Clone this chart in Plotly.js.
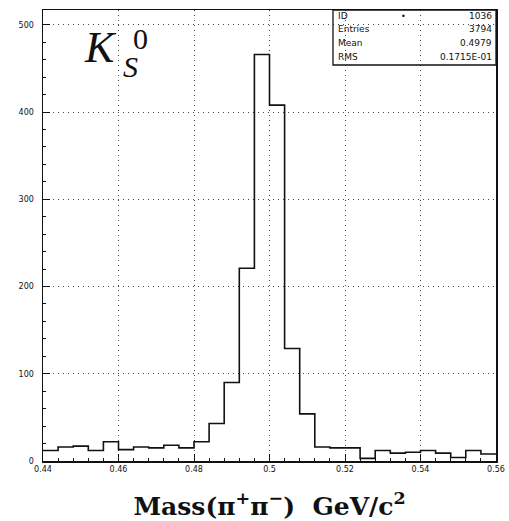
<!DOCTYPE html>
<html>
<head>
<meta charset="utf-8">
<script src="https://cdn.plot.ly/plotly-3.0.1.min.js"></script>
<style>html,body{margin:0;padding:0;background:#fff;}#plot{width:509px;height:521px;}</style>
</head>
<body>
<div id="plot"></div>
<script>
// Histogram of pi+pi- invariant mass, 30 bins of 0.004 GeV from 0.44 to 0.56
const binStart = 0.44;
const binWidth = 0.004;
const counts = [12, 16, 17, 12, 22, 13, 16, 15, 18, 15,
                22, 43, 90, 221, 466, 408, 129, 54, 16, 15,
                15, 3, 12, 9, 10, 12, 9, 4, 12, 8];
const xTickVals = [0.44, 0.46, 0.48, 0.5, 0.52, 0.54, 0.56];
const xTickText = ['0.44', '0.46', '0.48', '0.5', '0.52', '0.54', '0.56'];
const yTickVals = [0, 100, 200, 300, 400, 500];
const statLabels = ['ID', 'Entries', 'Mean', 'RMS'];
const statValues = ['1036', '3794', '0.4979', '0.1715E-01'];

// step outline from bin edges
const edges = counts.map((c, i) => +(binStart + i * binWidth).toFixed(4));
edges.push(+(binStart + counts.length * binWidth).toFixed(4));
const stepY = counts.concat([counts[counts.length - 1]]);

const trace = {
  x: edges, y: stepY, type: 'scatter', mode: 'lines',
  line: {shape: 'hv', color: '#111', width: 1.6},
  hoverinfo: 'skip', showlegend: false
};

// layout geometry (paper coords)
const L = 43, R = 13, T = 10, B = 60, W = 509, H = 521;
const pw = W - L - R, ph = H - T - B;
const px = v => (v - L) / pw;
const py = v => (H - B - v) / ph;

const annotations = [];
const rowY = [16, 29, 43, 57];
statLabels.forEach((s, i) => {
  annotations.push({xref: 'paper', yref: 'paper', x: px(336), y: py(rowY[i]), xanchor: 'left', yanchor: 'middle',
    text: s, showarrow: false, font: {family: 'DejaVu Sans', size: 9, color: '#111'}});
  annotations.push({xref: 'paper', yref: 'paper', x: px(494), y: py(rowY[i]), xanchor: 'right', yanchor: 'middle',
    text: statValues[i], showarrow: false, font: {family: 'DejaVu Sans', size: 9, color: '#111'}});
});
annotations.push({xref: 'paper', yref: 'paper', x: px(403), y: py(17), xanchor: 'center', yanchor: 'middle',
  text: '•', showarrow: false, font: {family: 'DejaVu Sans', size: 8, color: '#111'}});
// K_S^0 label
annotations.push({xref: 'paper', yref: 'paper', x: px(100), y: py(48), xanchor: 'center', yanchor: 'middle',
  text: '<i>K</i>', showarrow: false, font: {family: 'Liberation Serif', size: 44, color: '#111'}});
annotations.push({xref: 'paper', yref: 'paper', x: px(140), y: py(38), xanchor: 'center', yanchor: 'middle',
  text: '0', showarrow: false, font: {family: 'Liberation Serif', size: 30, color: '#111'}});
annotations.push({xref: 'paper', yref: 'paper', x: px(130), y: py(66), xanchor: 'center', yanchor: 'middle',
  text: '<i>S</i>', showarrow: false, font: {family: 'Liberation Serif', size: 30, color: '#111'}});

const shapes = [{type: 'rect', xref: 'paper', yref: 'paper', x0: px(333), x1: 1, y0: py(65), y1: 1,
  line: {color: '#111', width: 1.3}, fillcolor: 'rgba(0,0,0,0)'}];

const layout = {
  width: W, height: H,
  margin: {l: L, r: R, t: T, b: B},
  paper_bgcolor: '#fff', plot_bgcolor: '#fff',
  font: {family: 'DejaVu Sans', color: '#111'},
  xaxis: {
    range: [0.44, 0.56], tickvals: xTickVals, ticktext: xTickText,
    ticks: 'inside', ticklen: 7, tickwidth: 1, tickcolor: '#111',
    showline: true, linecolor: '#111', linewidth: 1.5, mirror: true,
    showgrid: true, gridcolor: '#444', griddash: '1px,4px', gridwidth: 1,
    zeroline: false,
    minor: {dtick: 0.004, tick0: 0.44, ticks: 'inside', ticklen: 3, tickcolor: '#111', showgrid: false},
    tickfont: {size: 8, family: 'DejaVu Sans', color: '#111'},
    title: {text: 'Mass(π<sup>+</sup>π<sup>−</sup>)  GeV/c<sup>2</sup>', standoff: 25,
      font: {family: 'DejaVu Serif', size: 25, color: '#111', weight: 'bold'}}
  },
  yaxis: {
    range: [0, 517], tickvals: yTickVals,
    ticks: 'inside', ticklen: 7, tickwidth: 1, tickcolor: '#111',
    showline: true, linecolor: '#111', linewidth: 1.5, mirror: true,
    showgrid: true, gridcolor: '#444', griddash: '1px,4px', gridwidth: 1,
    zeroline: false,
    minor: {dtick: 20, ticks: 'inside', ticklen: 3, tickcolor: '#111', showgrid: false},
    tickfont: {size: 8, family: 'DejaVu Sans', color: '#111'},
    ticklabelstandoff: 6
  },
  annotations: annotations,
  shapes: shapes
};

Plotly.newPlot('plot', [trace], layout, {displayModeBar: false, staticPlot: true});
</script>
</body>
</html>
